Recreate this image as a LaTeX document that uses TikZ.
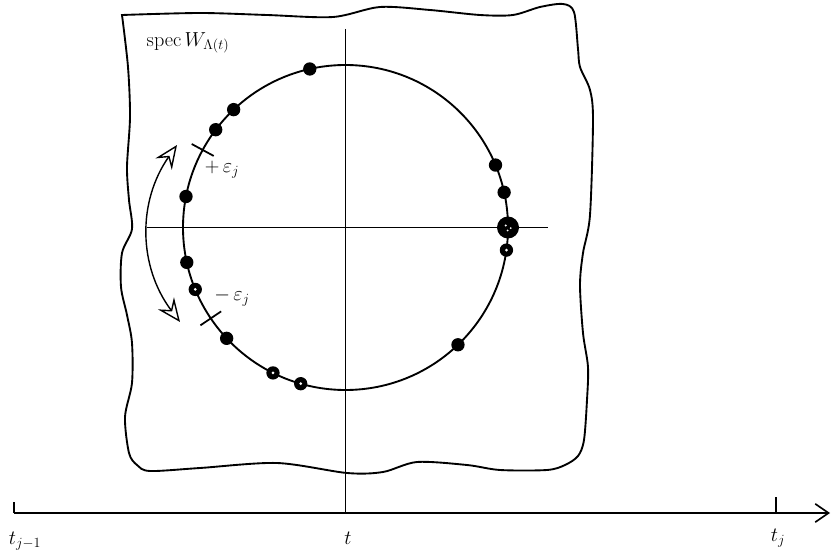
\documentclass[tikz,border=0pt]{standalone}
\usepackage{xcolor}
\usepackage{amsmath}
\usepackage{tikz}
\usetikzlibrary{arrows.meta, positioning, calc}
\tikzset{
  specdot/.style={circle, fill=black, inner sep=0pt, minimum size=4mm},
  ringdot/.style={specdot, path picture={\fill[white] (path picture bounding box.center) circle (0.45mm);}},
  bigdot/.style={circle, fill=black, inner sep=0pt, minimum size=6.6mm,
    path picture={
      \fill[white] ([shift={(-0.7mm,0.6mm)}]path picture bounding box.center) circle (0.35mm);
      \fill[white] ([shift={(0.8mm,-0.2mm)}]path picture bounding box.center) circle (0.3mm);
      \fill[white] ([shift={(-0.1mm,-0.9mm)}]path picture bounding box.center) circle (0.3mm);}},
  region/.style={line width=1.6pt, color=black},
  crossline/.style={line width=1.5pt, color=black},
  tickmark/.style={line width=1.5pt, color=black},
  axisline/.style={line width=1.8pt, -{Straight Barb[length=4mm, width=5.5mm, line width=1.4pt]}},
  swing/.style={line width=1.2pt, {Stealth[open, length=7mm, width=6mm, inset=2.5mm]}-{Stealth[open, length=7mm, width=6mm, inset=2.5mm]}},
  lbl/.style={font=\LARGE, inner sep=1pt}
}

\begin{document}
\begin{tikzpicture}[x=0.03cm, y=0.03cm]
  \useasboundingbox (0,0) rectangle (831,549);

  % Region of the spectrum
  \draw[region] plot[smooth, tension=0.5] coordinates {
    (122,534) (200,536) (267,534) (333,532) (380,542) (430,539) (480,534) (513,534) (540,542) (563,545)
    (574,537) (578,500) (580,482) (590,459) (593,429) (590,334) (583,296) (580,264) (583,216) (588,182) (587,149) (584,109) (578,93)
    (565,84) (547,79) (500,79) (467,84) (417,87) (383,77) (347,76) (277,86) (200,81) (150,78)
    (137,84) (129,96) (125,132) (132,166) (132,206) (127,234) (121,262) (122,296) (132,320) (129,349) (127,382) (130,432) (128,482) (122,534)} -- cycle;
  \node[lbl] (spec) at (188,506) {$\mathrm{spec}\,W_{\Lambda(t)}$};

  % Axes through the centre
  \coordinate (O) at (345.5,321.5);
  \coordinate (vtop) at (345.5,520);
  \coordinate (vbot) at (345.5,36);
  \coordinate (hl) at (147,321.5);
  \coordinate (hr) at (548,321.5);
  \draw[crossline] (vtop) -- (vbot);
  \draw[crossline] (hl) -- (hr);

  % Circle and eigenvalues
  \draw[region] (O) circle (162.5);
  \node[specdot] (e1) at ($(O)+(102.7:162.5)$) {};
  \node[specdot] (e2) at ($(O)+(133.5:162.5)$) {};
  \node[specdot] (e3) at ($(O)+(143:162.5)$) {};
  \node[specdot] (e4) at ($(O)+(169:162.5)$) {};
  \node[specdot] (e5) at ($(O)+(192.4:162.5)$) {};
  \node[ringdot] (e6) at ($(O)+(202.4:162.5)$) {};
  \node[specdot] (e7) at ($(O)+(223:162.5)$) {};
  \node[ringdot] (e8) at ($(O)+(243.5:162.5)$) {};
  \node[ringdot] (e9) at ($(O)+(254:162.5)$) {};
  \node[specdot] (e10) at ($(O)+(313.8:162.5)$) {};
  \node[ringdot] (e11) at ($(O)+(352:162.5)$) {};
  \node[bigdot] (e12) at ($(O)+(0:162.5)$) {};
  \node[specdot] (e13) at ($(O)+(12.5:162.5)$) {};
  \node[specdot] (e14) at ($(O)+(22.6:162.5)$) {};

  % Cut marks
  \draw[tickmark] ($(O)+(151.5:150)$) -- ($(O)+(151.5:175)$);
  \draw[tickmark] ($(O)+(214:150)$) -- ($(O)+(214:175)$);
  \node[lbl] (plus) at (222,379) {$+\,\varepsilon_j$};
  \node[lbl] (minus) at (232,252) {$-\,\varepsilon_j$};

  % Rotation arrow
  \coordinate (a1) at (177,404);
  \coordinate (a2) at (180,227);
  \draw[swing] (a1) to[bend right=36] (a2);

  % Time axis
  \coordinate (ta) at (14,36);
  \coordinate (tb) at (830,36);
  \coordinate (tj) at (776,36);
  \draw[axisline] (ta) -- (tb);
  \draw[tickmark] (ta) -- ++(0,11);
  \draw[tickmark] (tj) -- ++(0,16);
  \node[lbl, anchor=base] (ltjm) at (25,5) {$t_{j-1}$};
  \node[lbl, anchor=base] (lt) at (348,5) {$t$};
  \node[lbl, anchor=base] (ltj) at (778,8) {$t_j$};
\end{tikzpicture}
\end{document}
